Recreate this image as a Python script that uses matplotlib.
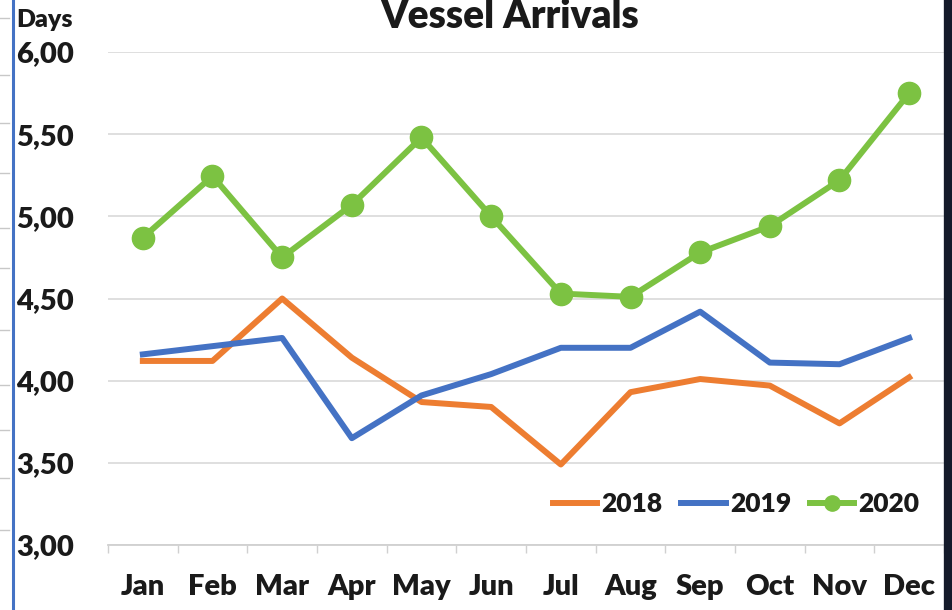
import matplotlib
matplotlib.use("Agg")
import matplotlib.pyplot as plt
from matplotlib.lines import Line2D
import numpy as np

plt.rcParams['font.family'] = ['Lato', 'DejaVu Sans']

months = ['Jan', 'Feb', 'Mar', 'Apr', 'May', 'Jun',
          'Jul', 'Aug', 'Sep', 'Oct', 'Nov', 'Dec']
y2018 = [4.12, 4.12, 4.50, 4.14, 3.87, 3.84, 3.49, 3.93, 4.01, 3.97, 3.74, 4.02]
y2019 = [4.16, 4.21, 4.26, 3.65, 3.91, 4.04, 4.20, 4.20, 4.42, 4.11, 4.10, 4.26]
y2020 = [4.87, 5.245, 4.75, 5.07, 5.48, 5.00, 4.53, 4.51, 4.78, 4.94, 5.22, 5.75]
yticks = [3.0, 3.5, 4.0, 4.5, 5.0, 5.5, 6.0]
ylabels = ['3,00', '3,50', '4,00', '4,50', '5,00', '5,50', '6,00']

W, H = 952, 610
fig = plt.figure(figsize=(W / 100, H / 100), dpi=100)
ax = fig.add_axes([108 / W, 65 / H, (944 - 108) / W, (545 - 52) / H])

x = np.arange(len(months))
ax.plot(x, y2018, color='#ed7d31', lw=4.3, solid_joinstyle='round', label='2018')
ax.plot(x, y2019, color='#4472c4', lw=4.3, solid_joinstyle='round', label='2019')
ax.plot(x, y2020, color='#7cc242', lw=4.3, marker='o', ms=16,
        solid_joinstyle='round', label='2020')

ax.set_xlim(-0.5, 11.5)
ax.set_ylim(3, 6)
ax.set_yticks(yticks)
ax.set_yticklabels(ylabels, fontsize=21, fontweight='heavy', color='#1a1a1a',
                   ha='left')
ax.tick_params(axis='y', length=0, pad=66)
ax.set_xticks(x)
ax.set_xticklabels(months, fontsize=21, fontweight='heavy', color='#1a1a1a')
ax.set_xticks(np.arange(-0.5, 12, 1), minor=True)
ax.tick_params(axis='x', which='major', length=0, pad=21)
ax.tick_params(axis='x', which='minor', length=6, color='#d0d0d0', width=1)

ax.grid(axis='y', color='#dcdcdc', lw=1.3)
ax.set_axisbelow(True)
for s in ['left', 'right', 'top']:
    ax.spines[s].set_visible(False)
ax.spines['bottom'].set_color('#d0d0d0')
ax.spines['bottom'].set_linewidth(1.3)

leg = ax.legend(loc='lower right', bbox_to_anchor=(0.999, 0.01), ncol=3,
                frameon=False, handlelength=1.7, handletextpad=0.15,
                columnspacing=0.7, prop={'size': 19, 'weight': 'heavy'})
for t in leg.get_texts():
    t.set_color('#1a1a1a')
for h in leg.legend_handles:
    h.set_markersize(11)

fig.text(510 / W, 1 - 17 / H, 'Vessel Arrivals', ha='center', va='center',
         fontsize=28, fontweight='heavy', color='#1a1a1a')
fig.text(16 / W, 1 - 20 / H, 'Days', ha='left', va='center',
         fontsize=18, fontweight='heavy', color='#1a1a1a')

# cropped frame edges from the screenshot
fig.add_artist(Line2D([13 / W, 13 / W], [0, 1], color='#4472c4', lw=2.2))
fig.add_artist(Line2D([948 / W, 948 / W], [0, 1], color='#141a2a', lw=6))
for yy in [18, 75, 123, 173, 228, 268, 330, 385, 430, 478, 530]:
    fig.add_artist(Line2D([0, 9 / W], [1 - yy / H, 1 - yy / H],
                          color='#c8c8c8', lw=1))

fig.savefig('out.png', dpi=100)
